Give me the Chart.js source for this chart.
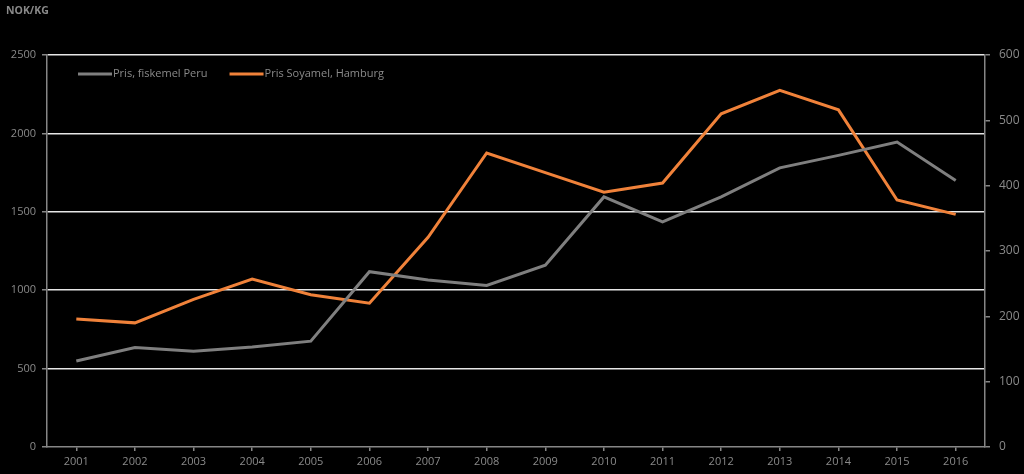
<!DOCTYPE html>
<html>
<head>
<meta charset="utf-8">
<script src="https://cdn.jsdelivr.net/npm/chart.js@4/dist/chart.umd.min.js"></script>
<style>
  html, body { margin: 0; padding: 0; background: #000; }
  #wrap { width: 1024px; height: 474px; position: relative; }
</style>
</head>
<body>
<div id="wrap"><canvas id="myChart" width="1024" height="474"></canvas></div>
<script>
  var years = ['2001', '2002', '2003', '2004', '2005', '2006', '2007', '2008',
               '2009', '2010', '2011', '2012', '2013', '2014', '2015', '2016'];
  var fiskemelPeru = [548, 635, 610, 638, 675, 1118, 1065, 1030, 1160, 1595, 1435, 1595, 1780, 1860, 1945, 1700];
  var soyamelHamburg = [196, 190, 226, 257, 233, 220, 321, 450, 420, 390, 404, 510, 546, 516, 378, 356];
  var leftTicks = [0, 500, 1000, 1500, 2000, 2500];
  var rightTicks = [0, 100, 200, 300, 400, 500, 600];

  var axisGrey = '#868686';
  var labelGrey = '#8a8a8a';
  var fontFamily = '"Open Sans", Lato, sans-serif';

  // title + legend drawn on top of the chart
  var overlay = {
      id: 'overlay',
      afterDraw: function (chart) {
          var ctx = chart.ctx;
          ctx.save();
          ctx.fillStyle = '#8a8a8a';
          ctx.font = 'bold 10.5px ' + fontFamily;
          ctx.textBaseline = 'top';
          ctx.fillText('NOK/KG', 6, 6);

          ctx.font = '11px ' + fontFamily;
          ctx.textBaseline = 'middle';
          var x = 78, y = 74;
          chart.data.datasets.forEach(function (ds) {
              ctx.strokeStyle = ds.borderColor;
              ctx.lineWidth = 3;
              ctx.beginPath();
              ctx.moveTo(x, y);
              ctx.lineTo(x + 34, y);
              ctx.stroke();
              ctx.fillStyle = labelGrey;
              ctx.fillText(ds.label, x + 35, y);
              x += 35 + ctx.measureText(ds.label).width + 22;
          });
          ctx.restore();
      }
  };

  var ctx = document.getElementById('myChart').getContext('2d');
  var chart = new Chart(ctx, {
      type: 'line',
      data: {
          labels: years,
          datasets: [{
              label: 'Pris, fiskemel Peru',
              data: fiskemelPeru,
              borderColor: '#7f7f7f',
              borderWidth: 3,
              pointRadius: 0,
              tension: 0,
              yAxisID: 'y'
          }, {
              label: 'Pris Soyamel, Hamburg',
              data: soyamelHamburg,
              borderColor: '#f0823a',
              borderWidth: 3,
              pointRadius: 0,
              tension: 0,
              yAxisID: 'y2'
          }]
      },
      options: {
          responsive: false,
          animation: false,
          layout: { padding: { top: 55, left: 0, right: 0, bottom: 0 } },
          plugins: {
              legend: { display: false },
              tooltip: { enabled: false }
          },
          scales: {
              x: {
                  offset: true,
                  afterFit: function (s) { s.height = 27; },
                  grid: { offset: false, drawOnChartArea: false, tickLength: 4, tickColor: axisGrey, lineWidth: 1.5 },
                  border: { color: axisGrey, width: 1.5 },
                  ticks: { color: labelGrey, padding: 4, maxRotation: 0, font: { family: fontFamily, size: 11 } }
              },
              y: {
                  position: 'left',
                  min: 0, max: 2500,
                  afterFit: function (s) { s.width = 47; },
                  afterBuildTicks: function (s) { s.ticks = leftTicks.map(function (v) { return { value: v }; }); },
                  grid: {
                      color: function (c) { return c.tick && c.tick.value === 0 ? 'rgba(0,0,0,0)' : '#e6e6e6'; },
                      lineWidth: 1.5,
                      tickLength: 5,
                      tickColor: axisGrey
                  },
                  border: { color: axisGrey, width: 1.5 },
                  ticks: {
                      color: labelGrey, padding: 6, font: { family: fontFamily, size: 11 },
                      callback: function (v) { return String(v); }
                  }
              },
              y2: {
                  position: 'right',
                  min: 0, max: 600,
                  afterFit: function (s) { s.width = 39; },
                  afterBuildTicks: function (s) { s.ticks = rightTicks.map(function (v) { return { value: v }; }); },
                  grid: { drawOnChartArea: false, tickLength: 5, tickColor: axisGrey, lineWidth: 1.5 },
                  border: { color: axisGrey, width: 1.5 },
                  ticks: { color: labelGrey, padding: 9, font: { family: fontFamily, size: 12 } }
              }
          }
      },
      plugins: [overlay]
  });
</script>
</body>
</html>
